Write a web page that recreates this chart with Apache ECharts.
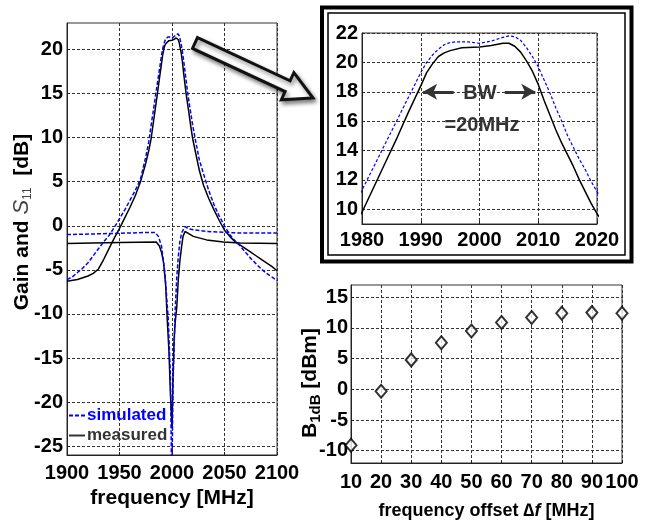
<!DOCTYPE html>
<html><head><meta charset="utf-8">
<script src="https://cdn.jsdelivr.net/npm/echarts@6/dist/echarts.min.js"></script>
<style>html,body{margin:0;padding:0;background:#fff}#c{width:651px;height:521px}</style>
</head><body><div id="c"></div>
<script>
// ---- data ----
const gainMeasured = [[1900,-6.3],[1910,-6.1],[1920,-5.7],[1925,-5.4],[1930,-4.9],[1935,-3.8],[1940,-2.6],[1945,-1.4],[1950,-0.3],[1955,0.9],[1960,2.1],[1965,3.4],[1970,5.0],[1975,7.1],[1978,8.6],[1980,9.8],[1982,11.5],[1984,13.2],[1986,14.9],[1988,16.7],[1990,18.4],[1991,19.3],[1992,19.9],[1993,20.4],[1994,20.65],[1995,20.8],[1997,21.0],[2000,21.05],[2002,21.15],[2004,21.3],[2005,21.3],[2006,21.1],[2007,20.7],[2008,20.1],[2009,19.4],[2010,18.5],[2011,17.4],[2012,16.4],[2013,15.4],[2014,14.5],[2015,13.7],[2016,12.9],[2017,12.0],[2018,11.2],[2019,10.4],[2020,9.7],[2023,8.0],[2026,6.3],[2030,4.6],[2035,3.1],[2040,1.8],[2045,0.6],[2050,-0.5],[2055,-1.2],[2060,-1.8],[2065,-2.2],[2070,-2.6],[2075,-3.0],[2080,-3.4],[2085,-3.8],[2090,-4.2],[2095,-4.6],[2100,-5.1]];
const gainSimulated = [[1900,-6.1],[1905,-5.8],[1910,-5.3],[1915,-4.8],[1920,-4.2],[1925,-3.4],[1930,-2.6],[1935,-1.8],[1940,-1.1],[1945,-0.2],[1950,0.8],[1955,1.8],[1960,2.9],[1965,4.0],[1970,5.3],[1975,7.8],[1978,9.6],[1980,11.3],[1982,12.9],[1984,14.5],[1986,16.1],[1988,17.7],[1990,19.3],[1991,20.0],[1992,20.5],[1993,20.9],[1994,21.2],[1995,21.35],[1996,21.4],[1998,21.4],[2000,21.3],[2002,21.45],[2004,21.7],[2005,21.8],[2006,21.75],[2007,21.5],[2008,21.0],[2009,20.4],[2010,19.7],[2011,18.8],[2012,17.9],[2013,16.9],[2014,16.0],[2015,15.0],[2016,14.2],[2017,13.4],[2018,12.7],[2019,11.9],[2020,11.2],[2023,9.3],[2026,7.5],[2030,5.9],[2035,4.0],[2040,2.4],[2045,1.1],[2050,0.0],[2055,-1.0],[2060,-1.7],[2065,-2.3],[2070,-3.0],[2075,-3.7],[2080,-4.3],[2085,-4.9],[2090,-5.4],[2095,-5.8],[2100,-6.2]];
const s11Measured = [[1900,-2.0],[1950,-1.9],[1985,-1.85],[1988,-2.3],[1990,-3.0],[1992,-4.2],[1994,-6.8],[1995.5,-10.7],[1997,-14.0],[1998.5,-19.0],[2000,-23.0],[2001,-17.0],[2002,-13.0],[2003,-11.0],[2004.5,-9.3],[2006,-6.1],[2007.5,-4.0],[2009.2,-2.3],[2010.5,-1.2],[2012.4,-0.65],[2016,-0.9],[2020.3,-1.2],[2033,-1.6],[2049,-1.85],[2065,-1.96],[2100,-2.0]];
const s11Simulated = [[1900,-1.0],[1950,-0.85],[1980,-0.75],[1984,-0.76],[1987,-1.2],[1990,-2.3],[1993.3,-5.4],[1996.5,-10.7],[1998.5,-17.0],[1999.8,-30.0],[2001,-18.0],[2002.9,-9.9],[2004.5,-6.0],[2006,-3.5],[2007.5,-1.8],[2009.2,-0.8],[2012.4,-0.1],[2016,-0.35],[2020.3,-0.45],[2033,-0.64],[2065,-0.83],[2100,-0.83]];
const b1dBOffsets = [10,20,30,40,50,60,70,80,90,100];
const b1dBValues  = [-9.1,-0.3,4.8,7.6,9.5,10.9,11.7,12.4,12.5,12.4];
const mainYTicks  = [-25,-20,-15,-10,-5,0,5,10,15,20];
const insetYTicks = [10,12,14,16,18,20,22];
const b1dBYTicks  = [-10,-5,0,5,10,15];

// ---- styles ----
const FONT = '"Liberation Sans", Arial, sans-serif';
const BLUE = '#0000ff';
const splitLine = {show:true, lineStyle:{color:'#333', type:[3,2], width:1}};
const axisLine = {show:true, onZero:false, lineStyle:{color:'#222', width:1}};
const tick = (vals) => Object.assign({show:true, inside:true, length:3, lineStyle:{color:'#222'}}, vals ? {customValues: vals} : {});
const lbl = (margin, vals) => Object.assign({color:'#000', fontFamily:FONT, fontWeight:'bold', fontSize:20, margin:margin, formatter:(v)=>String(v)}, vals ? {customValues: vals} : {});
const bold = (s) => ({fontFamily:FONT, fontWeight:'bold', fontSize:s, color:'#000'});

const chart = echarts.init(document.getElementById('c'), null, {renderer:'canvas'});
const simStyle = {color:BLUE, width:1.5, type:[4,2]};
const measStyle = {color:'#000', width:1.5};

chart.setOption({
  animation:false,
  backgroundColor:'#fff',
  grid:[
    {left:67, top:23, width:210, height:432, show:true, borderColor:'#333', borderWidth:1},
    {left:362, top:33, width:235, height:191, show:true, borderColor:'#333', borderWidth:1},
    {left:351, top:285, width:271, height:186, show:true, borderColor:'#333', borderWidth:1}
  ],
  xAxis:[
    {type:'value', gridIndex:0, min:1900, max:2100, interval:50, axisLine, axisTick:tick(), splitLine, axisLabel:lbl(8),
     name:'frequency [MHz]', nameLocation:'middle', nameGap:31, nameTextStyle:bold(21)},
    {type:'value', gridIndex:1, min:1980, max:2020, interval:10, axisLine, axisTick:tick(), splitLine, axisLabel:lbl(6)},
    {type:'value', gridIndex:2, min:10, max:100, interval:10, axisLine, axisTick:tick(), splitLine, axisLabel:lbl(9),
     name:'{b|frequency offset \u2206}{i|f}{b| [MHz]}', nameLocation:'middle', nameGap:39,
     nameTextStyle:{rich:{b:bold(18), i:{fontFamily:FONT, fontWeight:'bold', fontStyle:'italic', fontSize:18, color:'#000'}}}}
  ],
  yAxis:[
    {type:'value', gridIndex:0, min:-26, max:23, axisLine, axisTick:tick(mainYTicks), splitLine, axisLabel:lbl(4, mainYTicks),
     name:'{g| }{b|Gain and }{i|S}{s|11}{b|  [dB]}', nameLocation:'middle', nameRotate:90, nameGap:33, nameMoveOverlap:false,
     nameTextStyle:{rich:{g:{width:34}, b:bold(21), i:{fontFamily:FONT, fontStyle:'italic', fontSize:22, color:'#444'}, s:{fontFamily:FONT, fontSize:12, color:'#444', verticalAlign:'bottom', lineHeight:24}}}},
    {type:'value', gridIndex:1, min:9, max:22, axisLine, axisTick:tick(insetYTicks), splitLine, axisLabel:lbl(4, insetYTicks)},
    {type:'value', gridIndex:2, min:-12, max:17, axisLine, axisTick:tick(b1dBYTicks), splitLine, axisLabel:lbl(3, b1dBYTicks),
     name:'{b|B}{s|1dB}{b| [dBm]}{g| }', nameLocation:'middle', nameRotate:90, nameGap:28, nameMoveOverlap:false,
     nameTextStyle:{rich:{g:{width:18}, b:bold(21), s:{fontFamily:FONT, fontWeight:'bold', fontSize:15, color:'#000', verticalAlign:'bottom', lineHeight:26}}}}
  ],
  legend:{
    data:[
      {name:'simulated', icon:'path://M0,0h4v2h-4z M6,0h4v2h-4z M12,0h4v2h-4z', itemStyle:{color:BLUE}, textStyle:{color:BLUE}},
      {name:'measured', icon:'rect', itemStyle:{color:'#333'}, textStyle:{color:'#333'}}
    ],
    orient:'vertical', left:69, top:407, itemWidth:16, itemHeight:2, itemGap:3, padding:0,
    selectedMode:false, textStyle:{fontFamily:FONT, fontWeight:'bold', fontSize:17, padding:[0,0,0,-3]}
  },
  series:[
    {type:'line', name:'measured', xAxisIndex:0, yAxisIndex:0, data:gainMeasured, symbol:'none', lineStyle:measStyle, itemStyle:{color:'#000'}, z:2},
    {type:'line', name:'measured', xAxisIndex:0, yAxisIndex:0, data:s11Measured, symbol:'none', lineStyle:measStyle, itemStyle:{color:'#000'}, z:2},
    {type:'line', name:'simulated', xAxisIndex:0, yAxisIndex:0, data:gainSimulated, symbol:'none', lineStyle:simStyle, itemStyle:{color:BLUE}, z:3},
    {type:'line', name:'simulated', xAxisIndex:0, yAxisIndex:0, data:s11Simulated, symbol:'none', lineStyle:simStyle, itemStyle:{color:BLUE}, z:3},
    {type:'line', name:'measured', xAxisIndex:1, yAxisIndex:1, data:gainMeasured, symbol:'none', lineStyle:measStyle, itemStyle:{color:'#000'}, z:2,
     markLine:{silent:true, symbolSize:[12,14], lineStyle:{color:'#333', width:3, type:'solid'}, label:{show:false},
       data:[[{coord:[1990.4,18], symbol:'arrow'},{coord:[1995.6,18], symbol:'none'}],
             [{coord:[2004.3,18], symbol:'none'},{coord:[2009.5,18], symbol:'arrow'}]]}},
    {type:'line', name:'simulated', xAxisIndex:1, yAxisIndex:1, data:gainSimulated, symbol:'none', lineStyle:{color:BLUE, width:1.2, type:[3,2]}, itemStyle:{color:BLUE}, z:3},
    {type:'scatter', name:'B1dB', xAxisIndex:2, yAxisIndex:2, data:b1dBOffsets.map((x,i)=>[x,b1dBValues[i]]),
     symbol:'diamond', symbolSize:[11,13], itemStyle:{color:'#fff', borderColor:'#000', borderWidth:2}, z:4}
  ],
  graphic:[
    {type:'rect', shape:{x:322, y:7.5, width:309.5, height:254}, style:{fill:'none', stroke:'#000', lineWidth:4}, z:10},
    {type:'rect', shape:{x:328, y:13, width:297, height:242}, style:{fill:'none', stroke:'#000', lineWidth:1.5}, z:10},
    {type:'polygon', shape:{points:[[197.5,37.6],[290.1,80.8],[293.9,72.6],[313,98],[281.3,99.8],[285.1,91.6],[192.5,48.4]]},
     style:{fill:'#fff', stroke:'#111', lineWidth:3, shadowBlur:4, shadowColor:'rgba(0,0,0,0.45)', shadowOffsetX:2, shadowOffsetY:3}, z:10},
    {type:'text', x:480, y:93, style:{text:'BW', font:'bold 20px '+FONT, fill:'#333', textAlign:'center', textVerticalAlign:'middle'}, z:11},
    {type:'text', x:482, y:125, style:{text:'=20MHz', font:'bold 20px '+FONT, fill:'#333', textAlign:'center', textVerticalAlign:'middle'}, z:11}
  ]
});
</script></body></html>
